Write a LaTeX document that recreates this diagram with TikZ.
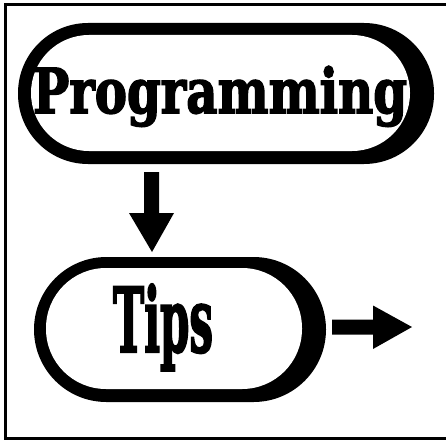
\documentclass[tikz,border=0pt]{standalone}
\usepackage{fontspec}
\usepackage{graphicx}
\newfontfamily\slabfont{DejaVu Serif Condensed}[BoldFont={DejaVu Serif Condensed Bold},BoldFeatures={FakeBold=2.5}]
\tikzset{
  frameline/.style={line width=2.5pt, draw=black},
  pillouter/.style={fill=black},
  pillinner/.style={fill=white},
  blockarrow/.style={fill=black},
  title/.style={inner sep=0pt, anchor=base, font=\slabfont\bfseries},
}
\begin{document}
\begin{tikzpicture}[x=1pt,y=-1pt]
  \useasboundingbox (0,0) rectangle (446,441);
  % frame (open on the right)
  \draw[frameline] (446,4.5) -- (5.5,4.5) -- (5.5,438.5) -- (446,438.5);
  % Programming pill
  \fill[pillouter, rounded corners=70] (18,23) rectangle (434,164);
  \fill[pillinner, rounded corners=58] (31,35) rectangle (410,151);
  \node[title] (prog) at (220,113) {\resizebox{374pt}{47pt}{Programming}};
  % Tips pill
  \fill[pillouter, rounded corners=72.5] (34,257) rectangle (326,402);
  \fill[pillinner, rounded corners=60] (46,268) rectangle (302,389);
  \node[title] (tips) at (163,352) {\resizebox{100pt}{68pt}{Tips}};
  % down arrow
  \coordinate (d0) at (151.5,172);
  \fill[blockarrow] (d0) ++(-7.5,0) -- ++(15,0) -- ++(0,41) -- ++(15,0)
     -- (152,252) -- (129,213) -- (144,213) -- cycle;
  % right arrow
  \coordinate (r0) at (332,327);
  \fill[blockarrow] (r0) ++(0,-7.5) -- ++(41,0) -- ++(0,-14) -- (412,327)
     -- (373,349) -- (373,334.5) -- (332,334.5) -- cycle;
\end{tikzpicture}
\end{document}
